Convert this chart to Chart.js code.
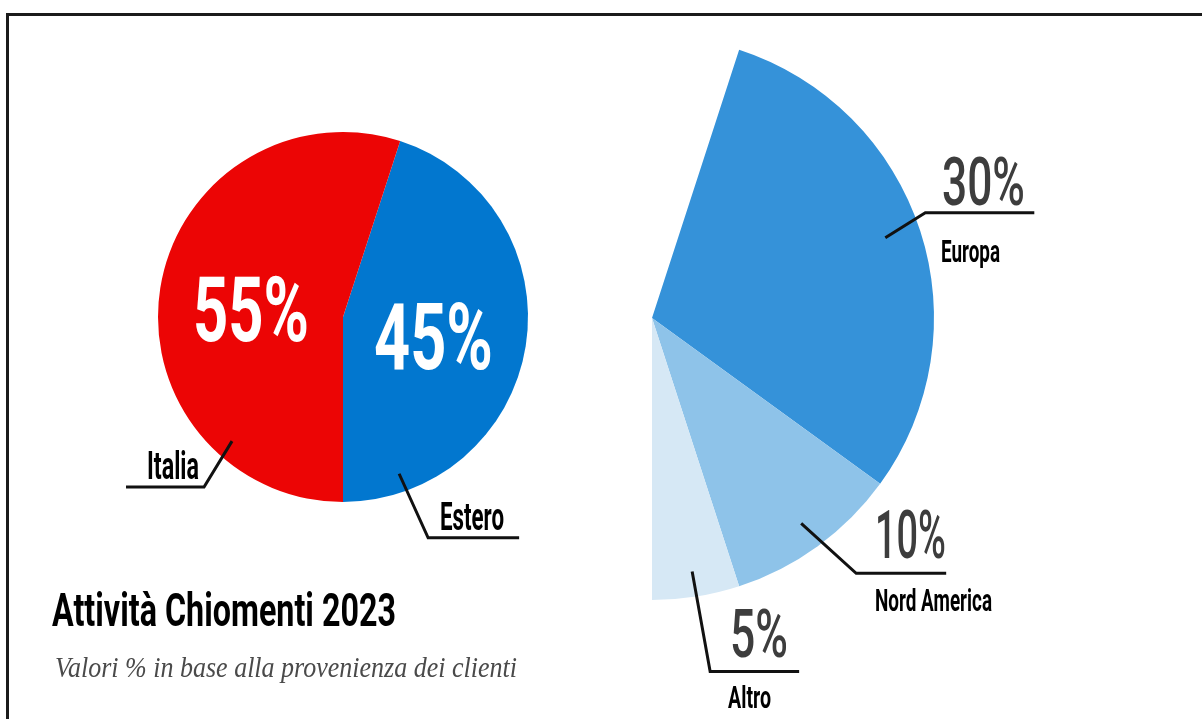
<!DOCTYPE html>
<html lang="it">
<head>
<meta charset="utf-8">
<title>Attività Chiomenti 2023</title>
<script src="https://cdn.jsdelivr.net/npm/chart.js@4.4.1/dist/chart.umd.min.js"></script>
<style>
  html, body { margin: 0; padding: 0; background: #ffffff; overflow: hidden; }
  #stage { position: relative; width: 1202px; height: 719px; overflow: hidden; background: #fff; }
  #frame { position: absolute; left: 6px; top: 13px; width: 1300px; height: 800px; border: 3px solid #1b1b1b; box-sizing: border-box; }
  canvas { position: absolute; left: 0; top: 0; }
  #txt { position: absolute; left: 0; top: 0; pointer-events: none; }
</style>
</head>
<body>
<div id="stage">
  <div id="frame"></div>
  <canvas id="mainPie" width="1202" height="719"></canvas>
  <canvas id="subPie" width="1202" height="719"></canvas>
  <svg id="txt" width="1202" height="719" xmlns="http://www.w3.org/2000/svg"></svg>
</div>
<script>
// ---- data ----
const mainLabels = ['Estero', 'Italia'];
const mainValues = [45, 55];
const mainColors = ['#0277CF', '#EC0505'];

const esteroLabels = ['Europa', 'Nord America', 'Altro'];
const esteroValues = [30, 10, 5];
const esteroColors = ['#3592D9', '#8EC3E9', '#D6E8F5'];

const titleText = 'Attività Chiomenti 2023';
const subtitleText = 'Valori % in base alla provenienza dei clienti';

// ---- leader lines plugin ----
function polar(arc, angDeg, frac) {
  const a = (angDeg - 90) * Math.PI / 180;
  return [arc.x + arc.outerRadius * frac * Math.cos(a), arc.y + arc.outerRadius * frac * Math.sin(a)];
}
function midAngle(arc) {
  return ((arc.startAngle + arc.endAngle) / 2) * 180 / Math.PI + 90;
}
const leaderPlugin = {
  id: 'leaders',
  afterDatasetsDraw(chart, args, opts) {
    const ctx = chart.ctx;
    const arcs = chart.getDatasetMeta(0).data;
    ctx.save();
    ctx.strokeStyle = '#111111';
    ctx.lineWidth = 3;
    ctx.lineJoin = 'miter';
    (opts.lines || []).forEach(l => {
      const arc = arcs[l.index];
      const ang = l.angle !== undefined ? l.angle : midAngle(arc) + (l.dAngle || 0);
      const [sx, sy] = polar(arc, ang, l.frac);
      ctx.beginPath();
      ctx.moveTo(sx, sy);
      ctx.lineTo(sx + l.elbow[0], sy + l.elbow[1]);
      ctx.lineTo(sx + l.end[0], sy + l.end[1]);
      ctx.stroke();
    });
    ctx.restore();
  }
};

const common = {
  responsive: false,
  animation: false,
  events: [],
  plugins: { legend: { display: false }, tooltip: { enabled: false }, title: { display: false } }
};

new Chart(document.getElementById('mainPie'), {
  type: 'pie',
  data: {
    labels: mainLabels,
    datasets: [{ data: mainValues, backgroundColor: mainColors, borderWidth: 0, offset: 0, hoverOffset: 0 }]
  },
  options: Object.assign({}, common, {
    rotation: 18,
    layout: { padding: { left: 158, top: 132, right: 674, bottom: 217 } },
    plugins: Object.assign({}, common.plugins, {
      leaders: { lines: [
        { index: 1, angle: 221.8, frac: 0.9, elbow: [-28, 46], end: [-106, 46] },
        { index: 0, angle: 160.3, frac: 0.9, elbow: [29, 64], end: [120, 64] }
      ] }
    })
  }),
  plugins: [leaderPlugin]
});

new Chart(document.getElementById('subPie'), {
  type: 'pie',
  data: {
    labels: esteroLabels.concat(['Italia']),
    datasets: [{
      data: esteroValues.concat([mainValues[1]]),
      backgroundColor: esteroColors.concat(['rgba(0,0,0,0)']),
      borderWidth: 0, offset: 0, hoverOffset: 0
    }]
  },
  options: Object.assign({}, common, {
    rotation: 18,
    layout: { padding: { left: 370, top: 36, right: 268, bottom: 119 } },
    plugins: Object.assign({}, common.plugins, {
      leaders: { lines: [
        { index: 0, dAngle: -1, frac: 0.875, elbow: [40, -25], end: [149, -25] },
        { index: 1, frac: 0.9, elbow: [55, 50], end: [145, 50] },
        { index: 2, frac: 0.91, elbow: [18, 100], end: [107, 100] }
      ] }
    })
  }),
  plugins: [leaderPlugin]
});

// ---- text (real SVG text) ----
const svg = document.getElementById('txt');
function addText(str, x, baseline, width, size, opts) {
  const t = document.createElementNS('http://www.w3.org/2000/svg', 'text');
  t.setAttribute('x', x);
  t.setAttribute('y', baseline);
  t.setAttribute('font-family', opts.family || 'Roboto, "Liberation Sans", sans-serif');
  t.setAttribute('font-size', size);
  t.setAttribute('font-weight', opts.weight || 700);
  if (opts.italic) t.setAttribute('font-style', 'italic');
  t.setAttribute('fill', opts.fill || '#000');
  t.setAttribute('textLength', width);
  t.setAttribute('lengthAdjust', 'spacingAndGlyphs');
  t.textContent = str;
  svg.appendChild(t);
}
const pct = v => v + '%';
// main pie percentages
addText(pct(mainValues[1]), 193, 341, 116, 90, { fill: '#ffffff', weight: 700 });
addText(pct(mainValues[0]), 374, 369, 119, 92, { fill: '#ffffff', weight: 700 });
addText(mainLabels[1], 147, 479, 52, 38, { weight: 700 });
addText(mainLabels[0], 440, 530, 64, 38, { weight: 700 });
// sub pie
addText(pct(esteroValues[0]), 942, 205, 83, 67, { fill: '#3d3d3d', weight: 500 });
addText(esteroLabels[0], 941, 262, 59, 32, { weight: 700 });
addText(pct(esteroValues[1]), 875, 558, 71, 67, { fill: '#3d3d3d', weight: 500 });
addText(esteroLabels[1], 875, 611, 117, 32, { weight: 700 });
addText(pct(esteroValues[2]), 730, 657, 58, 67, { fill: '#3d3d3d', weight: 500 });
addText(esteroLabels[2], 728, 708, 43, 32, { weight: 700 });
// title & subtitle
addText(titleText, 52, 626, 344, 47, { weight: 700 });
addText(subtitleText, 55, 677, 462, 29, { family: '"Liberation Serif", "DejaVu Serif", serif', italic: true, weight: 400, fill: '#4a4a4a' });
</script>
</body>
</html>
